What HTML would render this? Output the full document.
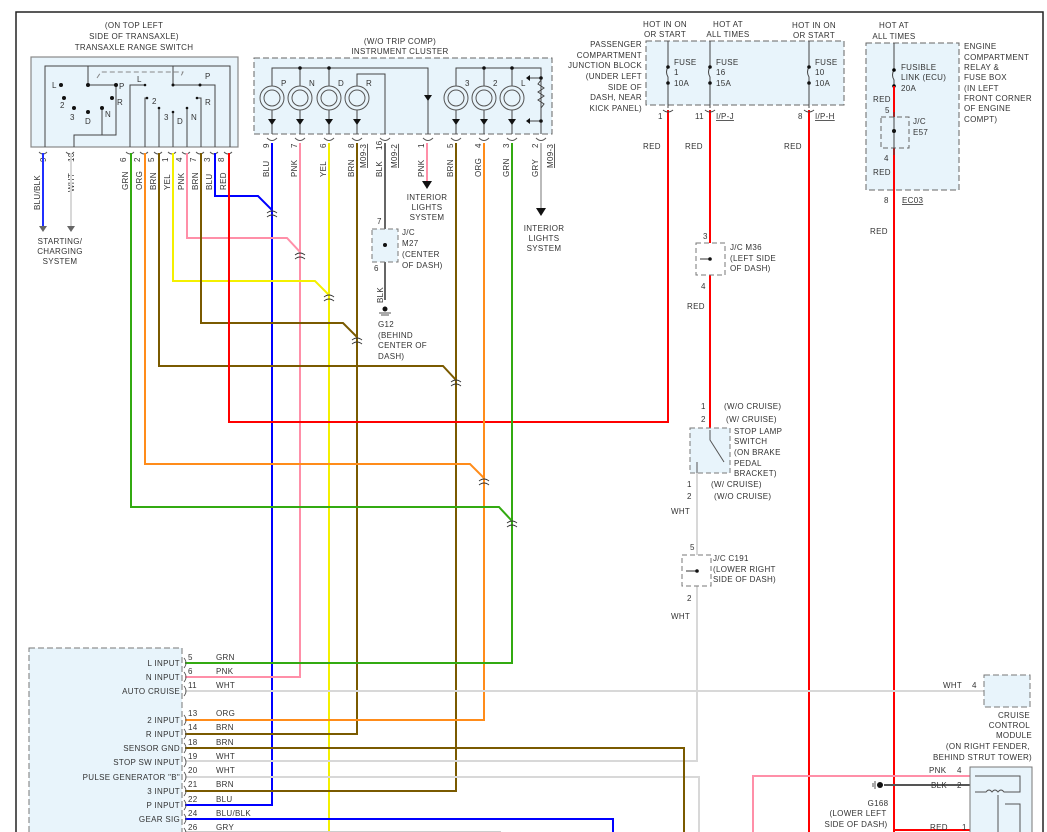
<!DOCTYPE html>
<html><head><meta charset="utf-8"><style>
html,body{margin:0;padding:0;background:#fff;}
svg{display:block;font-family:"Liberation Sans",sans-serif;}
text{font-size:8px;fill:#333;letter-spacing:0.3px;}
</style></head><body>
<svg width="1047" height="832" viewBox="0 0 1047 832" xmlns="http://www.w3.org/2000/svg">
<rect x="16" y="12" width="1027" height="830" fill="none" stroke="#222" stroke-width="1.5"/>

<!-- Transaxle range switch -->
<text x="134" y="28" text-anchor="middle">(ON TOP LEFT</text>
<text x="134" y="39" text-anchor="middle">SIDE OF TRANSAXLE)</text>
<text x="134" y="50" text-anchor="middle">TRANSAXLE RANGE SWITCH</text>
<rect x="31" y="57" width="207" height="90" fill="#e8f4fb" stroke="#888" stroke-width="1.2"/>
<g stroke="#444" stroke-width="1" fill="none">
<path d="M45 147V66H230V147"/>
<path d="M88 66V85H116"/>
<path d="M116 85V135H74V147"/>
<path d="M102 108V135"/>
<path d="M173 66V85H200H215V147"/>
<path d="M130 147V85H145"/>
<path d="M145 147V98H147"/>
<path d="M159 147V108"/><path d="M173 147V112"/><path d="M187 147V108"/>
<path d="M201 147V98H197"/>
<path d="M97 78L101 72H183L180 78" stroke-dasharray="5,3" stroke="#888"/>
</g>
<g fill="#111">
<circle cx="88" cy="85" r="2"/><circle cx="116" cy="85" r="2"/><circle cx="61" cy="85" r="2"/><circle cx="64" cy="98" r="2"/><circle cx="74" cy="108" r="2"/><circle cx="88" cy="112" r="2"/><circle cx="102" cy="108" r="2"/><circle cx="112" cy="98" r="2"/>
<circle cx="173" cy="85" r="1.5"/><circle cx="200" cy="85" r="1.5"/><circle cx="145" cy="85" r="1.3"/><circle cx="147" cy="98" r="1.3"/><circle cx="159" cy="108" r="1.3"/><circle cx="173" cy="112" r="1.3"/><circle cx="187" cy="108" r="1.3"/><circle cx="197" cy="98" r="1.3"/>
</g>
<text x="52" y="88">L</text><text x="60" y="108">2</text><text x="70" y="120">3</text><text x="85" y="124">D</text><text x="105" y="117">N</text><text x="117" y="105">R</text><text x="119" y="89">P</text>
<text x="137" y="82">L</text><text x="152" y="104">2</text><text x="164" y="120">3</text><text x="177" y="124">D</text><text x="191" y="120">N</text><text x="205" y="105">R</text><text x="205" y="79">P</text>

<!-- Instrument cluster -->
<text x="400" y="44" text-anchor="middle">(W/O TRIP COMP)</text>
<text x="400" y="54" text-anchor="middle">INSTRUMENT CLUSTER</text>
<rect x="254" y="58" width="298" height="76" fill="#e8f4fb" stroke="#666" stroke-dasharray="6,3"/>
<g stroke="#444" stroke-width="1" fill="none">
<path d="M272 86V68H428V134"/><path d="M300 68V86"/><path d="M329 68V86"/>
<path d="M357 86V74H385V134"/>
<path d="M456 86V68H541V134"/><path d="M484 68V86"/><path d="M512 68V86"/>
<path d="M272 110V134M300 110V134M329 110V134M357 110V134M456 110V134M484 110V134M512 110V134"/>
<path d="M541 80l-3 4 6 4-6 4 6 4-6 4 6 4-3 4"/>
<path d="M541 78H530M541 121H530"/>
</g>
<g fill="none" stroke="#555" stroke-width="1">
<circle cx="272" cy="98" r="12"/><circle cx="300" cy="98" r="12"/><circle cx="329" cy="98" r="12"/><circle cx="357" cy="98" r="12"/><circle cx="456" cy="98" r="12"/><circle cx="484" cy="98" r="12"/><circle cx="512" cy="98" r="12"/>
<circle cx="272" cy="98" r="8"/><circle cx="300" cy="98" r="8"/><circle cx="329" cy="98" r="8"/><circle cx="357" cy="98" r="8"/><circle cx="456" cy="98" r="8"/><circle cx="484" cy="98" r="8"/><circle cx="512" cy="98" r="8"/>
</g>
<g fill="#111">
<circle cx="300" cy="68" r="1.8"/><circle cx="329" cy="68" r="1.8"/><circle cx="484" cy="68" r="1.8"/><circle cx="512" cy="68" r="1.8"/><circle cx="541" cy="78" r="1.8"/><circle cx="541" cy="121" r="1.8"/>
<path d="M268 119h8l-4 6z"/><path d="M296 119h8l-4 6z"/><path d="M325 119h8l-4 6z"/><path d="M353 119h8l-4 6z"/><path d="M452 119h8l-4 6z"/><path d="M480 119h8l-4 6z"/><path d="M508 119h8l-4 6z"/><path d="M424 95h8l-4 6z"/>
<path d="M530 75v6l-4-3z"/><path d="M530 118v6l-4-3z"/>
</g>
<text x="281" y="86">P</text><text x="309" y="86">N</text><text x="338" y="86">D</text><text x="366" y="86">R</text><text x="465" y="86">3</text><text x="493" y="86">2</text><text x="521" y="86">L</text>

<!-- transaxle connector pins & labels -->
<g transform="rotate(-90)">
<text x="-162" y="46">9</text><text x="-162" y="74">10</text><text x="-162" y="126">6</text><text x="-162" y="140">2</text><text x="-162" y="154">5</text><text x="-162" y="168">1</text><text x="-162" y="182">4</text><text x="-162" y="196">7</text><text x="-162" y="210">3</text><text x="-162" y="224">8</text>
<text x="-210" y="40">BLU/BLK</text><text x="-192" y="74">WHT</text><text x="-190" y="128">GRN</text><text x="-190" y="142">ORG</text><text x="-190" y="156">BRN</text><text x="-190" y="170">YEL</text><text x="-190" y="184">PNK</text><text x="-190" y="198">BRN</text><text x="-190" y="212">BLU</text><text x="-190" y="226">RED</text>
<text x="-148" y="269">9</text><text x="-148" y="297">7</text><text x="-148" y="326">6</text><text x="-148" y="354">8</text><text x="-150" y="382">16</text><text x="-148" y="424">1</text><text x="-148" y="453">5</text><text x="-148" y="481">4</text><text x="-148" y="509">3</text><text x="-148" y="538">2</text>
<text x="-177" y="269">BLU</text><text x="-177" y="297">PNK</text><text x="-177" y="326">YEL</text><text x="-177" y="354">BRN</text><text x="-177" y="382">BLK</text><text x="-177" y="424">PNK</text><text x="-177" y="453">BRN</text><text x="-177" y="481">ORG</text><text x="-177" y="509">GRN</text><text x="-177" y="538">GRY</text>
<text x="-168" y="366" text-decoration="underline">M09-3</text><text x="-168" y="397" text-decoration="underline">M09-2</text><text x="-168" y="553" text-decoration="underline">M09-3</text>
<text x="-303" y="383">BLK</text>
</g>
<g fill="none" stroke="#555" stroke-width="0.9">
<path d="M39 152q4 4 8 0M66 152q4 4 8 0M126 152q4 4 8 0M140 152q4 4 8 0M154 152q4 4 8 0M168 152q4 4 8 0M182 152q4 4 8 0M196 152q4 4 8 0M210 152q4 4 8 0M224 152q4 4 8 0"/>
<path d="M267 138q5 5 10 0M295 138q5 5 10 0M324 138q5 5 10 0M352 138q5 5 10 0M380 138q5 5 10 0M423 138q5 5 10 0M451 138q5 5 10 0M479 138q5 5 10 0M507 138q5 5 10 0M536 138q5 5 10 0"/>
</g>

<!-- wires -->
<g fill="none" stroke-width="2">
<path d="M43 153V228" stroke="#2030ff"/>
<path d="M71 153V228" stroke="#d8d8d8"/>
<path d="M215 153V196H258L272 210V805H185" stroke="#0000ff"/>
<path d="M187 153V238H287L300 252V677H185" stroke="#ff8fa8"/>
<path d="M173 153V281H315L329 295V832" stroke="#f4f000"/>
<path d="M201 153V323H343L357 337V734H185" stroke="#7a5a00"/>
<path d="M159 153V366H443L456 380V791H185" stroke="#7a5a00"/>
<path d="M229 153V422H668V110" stroke="#ff0000"/>
<path d="M145 153V464H470L484 478V720H185" stroke="#ff8c1a"/>
<path d="M131 153V507H499L512 521V663H185" stroke="#33aa11"/>
<path d="M272 143V210M300 143V252M329 143V295M357 143V337M456 143V380M484 143V478M512 143V521" stroke-width="2" stroke="none"/>
<path d="M272 143V210" stroke="#0000ff"/><path d="M300 143V252" stroke="#ff8fa8"/><path d="M329 143V295" stroke="#f4f000"/><path d="M357 143V337" stroke="#7a5a00"/><path d="M456 143V380" stroke="#7a5a00"/><path d="M484 143V478" stroke="#ff8c1a"/><path d="M512 143V521" stroke="#33aa11"/>
<path d="M427 143V182" stroke="#ff8fa8"/>
<path d="M541 143V208" stroke="#bbb"/>
<path d="M385 143V300" stroke="#666"/>
<path d="M710 110V428" stroke="#ff0000"/>
<path d="M809 110V832" stroke="#ff0000"/>
<path d="M894 86V832" stroke="#ff0000"/>
<path d="M697 473V761H185" stroke="#d8d8d8"/>
<path d="M185 777H699V832" stroke="#d8d8d8"/>
<path d="M185 691H984" stroke="#d8d8d8"/>
<path d="M185 748H684V832" stroke="#7a5a00"/>
<path d="M185 819H613V832" stroke="#0000ff"/>
<path d="M185 832H501" stroke="#ccc"/>
<path d="M753 832V776H970" stroke="#ff8fa8"/>
<path d="M884 785H970" stroke="#555"/>
<path d="M894 830H970" stroke="#ff0000"/>
</g>
<!-- crossover arcs -->
<g fill="none" stroke="#333" stroke-width="0.9">
<path d="M267 213q5-4 10 0M267 217q5-4 10 0M295 255q5-4 10 0M295 259q5-4 10 0M324 297q5-4 10 0M324 301q5-4 10 0M352 340q5-4 10 0M352 344q5-4 10 0M451 382q5-4 10 0M451 386q5-4 10 0M479 481q5-4 10 0M479 485q5-4 10 0M507 523q5-4 10 0M507 527q5-4 10 0"/>
</g>
<!-- arrows -->
<g fill="#111">
<path d="M39 226h8l-4 6zM67 226h8l-4 6z" fill="#666"/>
<path d="M422 181h10l-5 8z"/><path d="M536 208h10l-5 8z"/>
</g>
<text x="60" y="244" text-anchor="middle">STARTING/</text><text x="60" y="254" text-anchor="middle">CHARGING</text><text x="60" y="264" text-anchor="middle">SYSTEM</text>
<text x="427" y="200" text-anchor="middle">INTERIOR</text><text x="427" y="210" text-anchor="middle">LIGHTS</text><text x="427" y="220" text-anchor="middle">SYSTEM</text>
<text x="544" y="231" text-anchor="middle">INTERIOR</text><text x="544" y="241" text-anchor="middle">LIGHTS</text><text x="544" y="251" text-anchor="middle">SYSTEM</text>

<!-- J/C M27 and G12 -->
<rect x="372" y="229" width="26" height="33" fill="#e8f4fb" stroke="#777" stroke-dasharray="5,3"/>
<circle cx="385" cy="245" r="2" fill="#111"/>
<text x="377" y="224">7</text><text x="374" y="271">6</text>
<text x="402" y="235">J/C</text><text x="402" y="246">M27</text><text x="402" y="257">(CENTER</text><text x="402" y="268">OF DASH)</text>
<circle cx="385" cy="309" r="2.5" fill="#111"/><path d="M379 313h12M381 315h8" stroke="#555"/>
<text x="378" y="327">G12</text><text x="378" y="338">(BEHIND</text><text x="378" y="348">CENTER OF</text><text x="378" y="359">DASH)</text>

<!-- Passenger junction block -->
<text x="665" y="27" text-anchor="middle">HOT IN ON</text><text x="665" y="37" text-anchor="middle">OR START</text>
<text x="728" y="27" text-anchor="middle">HOT AT</text><text x="728" y="37" text-anchor="middle">ALL TIMES</text>
<text x="814" y="28" text-anchor="middle">HOT IN ON</text><text x="814" y="38" text-anchor="middle">OR START</text>
<rect x="646" y="41" width="198" height="64" fill="#e8f4fb" stroke="#666" stroke-dasharray="6,3"/>
<g stroke="#444" fill="none"><path d="M668 41V67q-3 5 0 10V108M710 41V67q-3 5 0 10V108M809 41V67q-3 5 0 10V108"/>
<path d="M663 110q5 4 10 0M705 110q5 4 10 0M804 110q5 4 10 0"/></g>
<g fill="#111"><circle cx="668" cy="67" r="1.8"/><circle cx="668" cy="83" r="1.8"/><circle cx="710" cy="67" r="1.8"/><circle cx="710" cy="83" r="1.8"/><circle cx="809" cy="67" r="1.8"/><circle cx="809" cy="83" r="1.8"/></g>
<text x="674" y="65">FUSE</text><text x="674" y="75">1</text><text x="674" y="86">10A</text>
<text x="716" y="65">FUSE</text><text x="716" y="75">16</text><text x="716" y="86">15A</text>
<text x="815" y="65">FUSE</text><text x="815" y="75">10</text><text x="815" y="86">10A</text>
<g text-anchor="end"><text x="642" y="47">PASSENGER</text><text x="642" y="58">COMPARTMENT</text><text x="642" y="68">JUNCTION BLOCK</text><text x="642" y="79">(UNDER LEFT</text><text x="642" y="90">SIDE OF</text><text x="642" y="100">DASH, NEAR</text><text x="642" y="111">KICK PANEL)</text></g>
<text x="658" y="119">1</text><text x="695" y="119">11</text><text x="716" y="119" text-decoration="underline">I/P-J</text><text x="798" y="119">8</text><text x="815" y="119" text-decoration="underline">I/P-H</text>
<text x="643" y="149">RED</text><text x="685" y="149">RED</text><text x="784" y="149">RED</text>

<!-- Engine compartment box -->
<text x="894" y="28" text-anchor="middle">HOT AT</text><text x="894" y="39" text-anchor="middle">ALL TIMES</text>
<rect x="866" y="43" width="93" height="147" fill="#e8f4fb" stroke="#666" stroke-dasharray="6,3"/>
<path d="M894 43V70q-3 5 0 10V86" stroke="#444" fill="none"/>
<circle cx="894" cy="70" r="1.8"/><circle cx="894" cy="86" r="1.8"/>
<path d="M894 86V190" stroke="#ff0000" stroke-width="2"/>
<rect x="881" y="117" width="28" height="31" fill="#e8f4fb" stroke="#666" stroke-dasharray="5,3"/>
<path d="M894 112V155" stroke="#444"/><circle cx="894" cy="131" r="2" fill="#111"/>
<text x="901" y="70">FUSIBLE</text><text x="901" y="80">LINK (ECU)</text><text x="901" y="91">20A</text>
<text x="873" y="102">RED</text><text x="885" y="113">5</text><text x="913" y="124">J/C</text><text x="913" y="135">E57</text><text x="884" y="161">4</text><text x="873" y="175">RED</text>
<text x="884" y="203">8</text><text x="902" y="203" text-decoration="underline">EC03</text>
<text x="964" y="49">ENGINE</text><text x="964" y="60">COMPARTMENT</text><text x="964" y="70">RELAY &amp;</text><text x="964" y="80">FUSE BOX</text><text x="964" y="91">(IN LEFT</text><text x="964" y="101">FRONT CORNER</text><text x="964" y="111">OF ENGINE</text><text x="964" y="122">COMPT)</text>
<text x="870" y="234">RED</text>

<!-- J/C M36 -->
<rect x="696" y="243" width="29" height="32" fill="#fff" stroke="#777" stroke-dasharray="5,3"/>
<path d="M710 259H700" stroke="#333"/><circle cx="710" cy="259" r="1.8" fill="#111"/>
<text x="703" y="239">3</text><text x="701" y="289">4</text>
<text x="730" y="250">J/C M36</text><text x="730" y="261">(LEFT SIDE</text><text x="730" y="271">OF DASH)</text>
<text x="687" y="309">RED</text>

<!-- Stop lamp switch -->
<text x="701" y="409">1</text><text x="724" y="409">(W/O CRUISE)</text>
<text x="701" y="422">2</text><text x="726" y="422">(W/ CRUISE)</text>
<rect x="690" y="428" width="40" height="45" fill="#e8f4fb" stroke="#777" stroke-dasharray="5,3"/>
<path d="M710 430V440L724 462M697 473V462" stroke="#555" fill="none"/>
<text x="734" y="434">STOP LAMP</text><text x="734" y="444">SWITCH</text><text x="734" y="455">(ON BRAKE</text><text x="734" y="466">PEDAL</text><text x="734" y="476">BRACKET)</text>
<text x="687" y="487">1</text><text x="711" y="487">(W/ CRUISE)</text>
<text x="687" y="499">2</text><text x="714" y="499">(W/O CRUISE)</text>
<text x="671" y="514">WHT</text>
<!-- J/C C191 -->
<rect x="682" y="555" width="29" height="31" fill="#fff" stroke="#777" stroke-dasharray="5,3"/>
<path d="M697 571H686" stroke="#333"/><circle cx="697" cy="571" r="1.8" fill="#111"/>
<text x="690" y="550">5</text><text x="687" y="601">2</text>
<text x="713" y="561">J/C C191</text><text x="713" y="572">(LOWER RIGHT</text><text x="713" y="582">SIDE OF DASH)</text>
<text x="671" y="619">WHT</text>

<!-- Cruise control module -->
<text x="943" y="688">WHT</text><text x="972" y="688">4</text>
<rect x="984" y="675" width="46" height="32" fill="#e8f4fb" stroke="#777" stroke-dasharray="6,3"/>
<g text-anchor="end"><text x="1030" y="718">CRUISE</text><text x="1030" y="728">CONTROL</text><text x="1032" y="738">MODULE</text><text x="1030" y="749">(ON RIGHT FENDER,</text><text x="1032" y="760">BEHIND STRUT TOWER)</text></g>
<rect x="970" y="767" width="62" height="70" fill="#e8f4fb" stroke="#777"/>
<path d="M975 776H1020V792H1004q-3-4-6 0q-3-4-6 0q-3-4-6 0H975M998 795V832M1005 804H1020V832" stroke="#555" fill="none"/>
<text x="929" y="773">PNK</text><text x="957" y="773">4</text>
<text x="931" y="788">BLK</text><text x="957" y="788">2</text>
<text x="930" y="830">RED</text><text x="962" y="830">1</text>
<circle cx="880" cy="785" r="3" fill="#111"/><path d="M875 781v8M873 783v4" stroke="#555"/>
<text x="878" y="806" text-anchor="middle">G168</text><text x="858" y="816" text-anchor="middle">(LOWER LEFT</text><text x="856" y="827" text-anchor="middle">SIDE OF DASH)</text>

<!-- Controller -->
<rect x="29" y="648" width="153" height="200" fill="#e8f4fb" stroke="#777" stroke-dasharray="6,3"/>
<g text-anchor="end">
<text x="180" y="666">L INPUT</text><text x="180" y="680">N INPUT</text><text x="180" y="694">AUTO CRUISE</text><text x="180" y="723">2 INPUT</text><text x="180" y="737">R INPUT</text><text x="180" y="751">SENSOR GND</text><text x="180" y="765">STOP SW INPUT</text><text x="180" y="780">PULSE GENERATOR "B"</text><text x="180" y="794">3 INPUT</text><text x="180" y="808">P INPUT</text><text x="180" y="822">GEAR SIG</text>
</g>
<g fill="none" stroke="#555" stroke-width="0.9"><path d="M184 658q4 5 0 10M184 672q4 5 0 10M184 686q4 5 0 10M184 715q4 5 0 10M184 729q4 5 0 10M184 743q4 5 0 10M184 757q4 5 0 10M184 772q4 5 0 10M184 786q4 5 0 10M184 800q4 5 0 10M184 814q4 5 0 10M184 828q4 5 0 10"/></g>
<text x="188" y="660">5</text><text x="216" y="660">GRN</text>
<text x="188" y="674">6</text><text x="216" y="674">PNK</text>
<text x="188" y="688">11</text><text x="216" y="688">WHT</text>
<text x="188" y="716">13</text><text x="216" y="716">ORG</text>
<text x="188" y="730">14</text><text x="216" y="730">BRN</text>
<text x="188" y="745">18</text><text x="216" y="745">BRN</text>
<text x="188" y="759">19</text><text x="216" y="759">WHT</text>
<text x="188" y="773">20</text><text x="216" y="773">WHT</text>
<text x="188" y="787">21</text><text x="216" y="787">BRN</text>
<text x="188" y="802">22</text><text x="216" y="802">BLU</text>
<text x="188" y="816">24</text><text x="216" y="816">BLU/BLK</text>
<text x="188" y="830">26</text><text x="216" y="830">GRY</text>
</svg>
</body></html>
